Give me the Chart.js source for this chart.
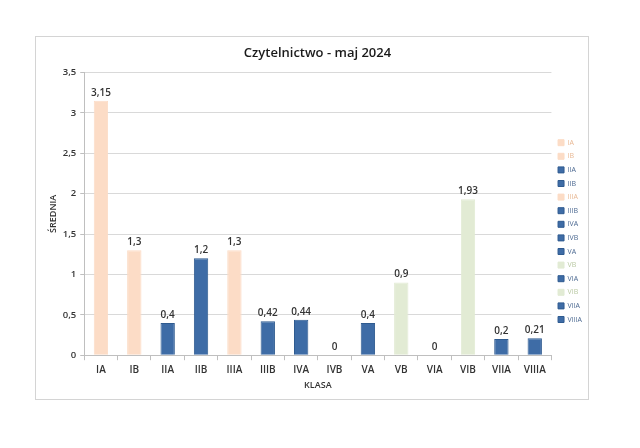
<!DOCTYPE html>
<html>
<head>
<meta charset="utf-8">
<style>
  html, body { margin: 0; padding: 0; background: #fff; }
  #wrap { width: 640px; height: 448px; }
</style>
<script src="https://cdn.jsdelivr.net/npm/chart.js@4.4.1/dist/chart.umd.min.js"></script>
</head>
<body>
<div id="wrap"><canvas id="chart" width="640" height="448"></canvas></div>
<script>
// Czytelnictwo - maj 2024, średnia per klasa
const classes = ['IA', 'IB', 'IIA', 'IIB', 'IIIA', 'IIIB', 'IVA', 'IVB', 'VA', 'VB', 'VIA', 'VIB', 'VIIA', 'VIIIA'];
const averages = [3.15, 1.3, 0.4, 1.2, 1.3, 0.42, 0.44, 0, 0.4, 0.9, 0, 1.93, 0.2, 0.21];
const groups = ['p', 'p', 'b', 'b', 'p', 'b', 'b', 'b', 'b', 'g', 'b', 'g', 'b', 'b'];
const yTicks = [0, 0.5, 1, 1.5, 2, 2.5, 3, 3.5];

const fill   = { p: '#fcdcc6', b: '#3e6ca6', g: '#e2ebd4' };
const edge   = { p: '#fcdcc6', b: '#2f5b90', g: '#e2ebd4' };
const legTxt = { p: '#e9b995', b: '#4d6a92', g: '#b9c9a3' };

const fontFamily = "'Open Sans', 'Liberation Sans', sans-serif";
const textColor  = '#333333';
const gridColor  = '#d9d9d9';
const axisColor  = '#bfbfbf';

const comma = v => String(v).replace('.', ',');

// outer frame like the Excel chart area
const framePlugin = {
    id: 'frame',
    beforeDraw(chart) {
        const c = chart.ctx;
        c.save();
        c.fillStyle = '#ffffff';
        c.fillRect(0, 0, chart.width, chart.height);
        c.strokeStyle = '#d4d4d4';
        c.lineWidth = 1;
        c.strokeRect(35.5, 36.5, 553, 363);
        c.restore();
    }
};

// value labels above bars
const valueLabels = {
    id: 'valueLabels',
    afterDatasetsDraw(chart) {
        const c = chart.ctx;
        const meta = chart.getDatasetMeta(0);
        c.save();
        c.font = "600 10px " + fontFamily;
        c.fillStyle = '#333333';
        c.textAlign = 'center';
        c.textBaseline = 'bottom';
        meta.data.forEach((bar, i) => {
            c.fillText(comma(averages[i]), bar.x, bar.y - 3);
        });
        c.restore();
    }
};

new Chart(document.getElementById('chart'), {
    type: 'bar',
    data: {
        labels: classes,
        datasets: [{
            label: 'Średnia',
            data: averages,
            backgroundColor: groups.map(g => fill[g]),
            borderColor: groups.map(g => edge[g]),
            borderWidth: 1,
            barPercentage: 0.43,
            categoryPercentage: 1
        }]
    },
    options: {
        responsive: false,
        animation: false,
        layout: { padding: { left: 43, right: 48, top: 45, bottom: 53 } },
        plugins: {
            title: {
                display: true,
                text: 'Czytelnictwo - maj 2024',
                color: '#1a1a1a',
                font: { family: fontFamily, size: 13, weight: '600' },
                padding: { top: 0, bottom: 12 }
            },
            legend: {
                position: 'right',
                title: { display: true, text: '', font: { size: 1 }, padding: { top: 0, bottom: 21 } },
                labels: {
                    boxWidth: 6,
                    boxHeight: 6,
                    padding: 6.6,
                    font: { family: fontFamily, size: 7 },
                    generateLabels: () => classes.map((name, i) => ({
                        text: name,
                        fillStyle: fill[groups[i]],
                        strokeStyle: edge[groups[i]],
                        lineWidth: 1,
                        fontColor: legTxt[groups[i]],
                        hidden: false,
                        index: i
                    }))
                }
            },
            tooltip: { enabled: false }
        },
        scales: {
            x: {
                grid: { display: true, drawOnChartArea: false, drawTicks: true, tickLength: 5, color: axisColor, offset: true },
                border: { color: axisColor },
                ticks: { color: textColor, font: { family: fontFamily, size: 10, weight: '600' }, maxRotation: 0, padding: 4 },
                title: { display: true, text: 'KLASA', color: textColor, font: { family: fontFamily, size: 9, weight: '600' }, padding: { top: 0 } }
            },
            y: {
                min: 0,
                max: 3.5,
                afterBuildTicks: axis => { axis.ticks = yTicks.map(v => ({ value: v })); },
                grid: { color: gridColor, tickLength: 4, tickColor: axisColor },
                border: { color: axisColor },
                ticks: { color: textColor, font: { family: fontFamily, size: 9.5, weight: '600' }, padding: 4, callback: v => comma(v) },
                title: { display: true, text: 'ŚREDNIA', color: textColor, font: { family: fontFamily, size: 9, weight: '600' }, padding: { top: 5, bottom: 0 } }
            }
        }
    },
    plugins: [framePlugin, valueLabels]
});
</script>
</body>
</html>
